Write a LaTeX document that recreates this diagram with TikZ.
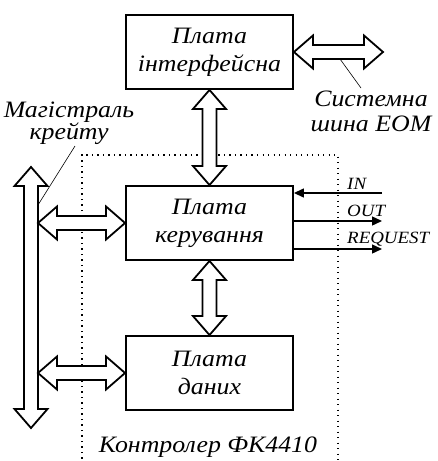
\documentclass[tikz,border=0pt]{standalone}
\usepackage{fontspec}
\setmainfont{Liberation Serif}[FakeStretch=1.1]
\usetikzlibrary{calc,arrows.meta}

% block arrow outlines: head half-width, head length, shaft half-width
\def\hw{16.5}\def\hl{19}\def\sw{7}
% vertical hollow double arrow from upper point #1 to lower point #2
\newcommand\vbus[2]{%
  \draw[busarrow] (#1) -- ($(#1)+(\hw,\hl)$) -- ($(#1)+(\sw,\hl)$)
    -- ($(#2)+(\sw,-\hl)$) -- ($(#2)+(\hw,-\hl)$) -- (#2)
    -- ($(#2)+(-\hw,-\hl)$) -- ($(#2)+(-\sw,-\hl)$)
    -- ($(#1)+(-\sw,\hl)$) -- ($(#1)+(-\hw,\hl)$) -- cycle;}
% horizontal hollow double arrow from left point #1 to right point #2
\newcommand\hbus[2]{%
  \draw[busarrow] (#1) -- ($(#1)+(\hl,-\hw)$) -- ($(#1)+(\hl,-\sw)$)
    -- ($(#2)+(-\hl,-\sw)$) -- ($(#2)+(-\hl,-\hw)$) -- (#2)
    -- ($(#2)+(-\hl,\hw)$) -- ($(#2)+(-\hl,\sw)$)
    -- ($(#1)+(\hl,\sw)$) -- ($(#1)+(\hl,\hw)$) -- cycle;}

\tikzset{
  board/.style={draw, line width=1.9pt, minimum width=167pt, minimum height=74pt,
    inner sep=0pt, align=center, font=\fontsize{23.5}{28}\selectfont\itshape},
  busarrow/.style={line width=1.8pt, line join=miter, fill=white},
  label/.style={inner sep=0pt, align=center, font=\fontsize{23.5}{25}\selectfont\itshape},
  siglabel/.style={inner sep=0pt, anchor=base west, font=\fontsize{17.2}{17.2}\selectfont\itshape},
  signal/.style={line width=1.4pt},
  sigtip/.style={-{Triangle[length=10pt,width=9pt]}},
  leader/.style={line width=0.6pt},
  frame/.style={line width=1.1pt, dash pattern=on 1.1pt off 4.4pt}
}

\begin{document}
\begin{tikzpicture}[x=1pt,y=-1pt]
  \useasboundingbox (0,0) rectangle (438,461);

  % controller outline (runs off the lower edge)
  \draw[frame] (82,475) -- (82,155) -- (338,155) -- (338,475);

  % boards
  \node[board] (ifc) at (209.5,52) {Плата\\інтерфейсна};
  \node[board] (ctl) at (209.5,223) {Плата\\керування};
  \node[board] (dat) at (209.5,373) {Плата\\даних};

  % crate backplane
  \coordinate (bustop) at (31,167);
  \coordinate (busbot) at (31,428);
  \coordinate (busedge) at (38,0);
  \vbus{bustop}{busbot}

  % backplane to boards
  \hbus{ctl.west -| busedge}{ctl.west}
  \hbus{dat.west -| busedge}{dat.west}

  % board to board
  \vbus{ifc.south}{ctl.north}
  \vbus{ctl.south}{dat.north}

  % system bus
  \coordinate (sysend) at (383,52);
  \hbus{ifc.east}{sysend}

  % control signals
  \coordinate (sigx) at (382,0);
  \coordinate (inL) at (0,193);
  \coordinate (outL) at (0,221);
  \coordinate (reqL) at (0,249);
  \draw[signal,sigtip] (sigx |- inL) -- (ctl.east |- inL);
  \draw[signal,sigtip] (ctl.east |- outL) -- (sigx |- outL);
  \draw[signal,sigtip] (ctl.east |- reqL) -- (sigx |- reqL);
  \node[siglabel] (inlab) at (347,189) {IN};
  \node[siglabel] (outlab) at (347,216) {OUT};
  \node[siglabel] (reqlab) at (347,243) {REQUEST};

  % captions
  \node[label] (syslab) at (371,111) {Системна\\шина ЕОМ};
  \draw[leader] (340,59) -- (361,88);
  \node[label, font=\fontsize{23.5}{22}\selectfont\itshape] (cratelab) at (69,123) {Магістраль\\крейту};
  \draw[leader] (75,146) -- (38,205);
  \node[label] (ctrllab) at (208,447) {Контролер ФК4410};
\end{tikzpicture}
\end{document}
